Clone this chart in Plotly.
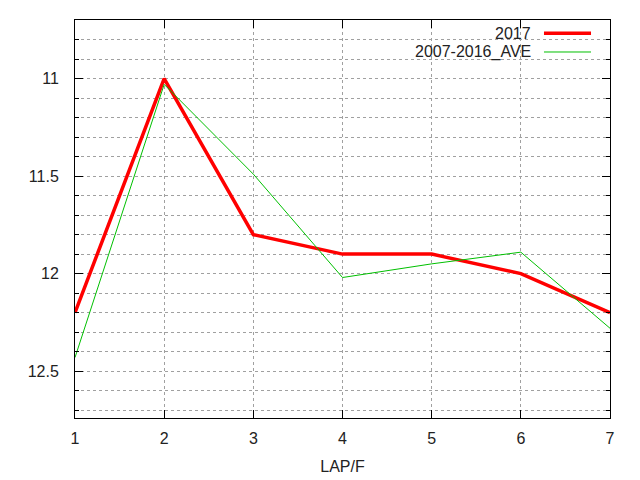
import plotly.graph_objects as go

# lap number and lap time per furlong (seconds)
laps = [1, 2, 3, 4, 5, 6, 7]
y2017 = [12.2, 11.0, 11.8, 11.9, 11.9, 12.0, 12.2]
y_ave = [12.43, 11.03, 11.49, 12.02, 11.95, 11.89, 12.28]

FONT = "Liberation Sans, Arial, sans-serif"
TXT = "#222222"

fig = go.Figure()

fig.add_trace(go.Scatter(
    x=laps, y=y2017, mode="lines", name="2017",
    line=dict(color="#ff0000", width=3.5), showlegend=False,
))
fig.add_trace(go.Scatter(
    x=laps, y=y_ave, mode="lines", name="2007-2016_AVE",
    line=dict(color="#00c000", width=1), showlegend=False,
))

# gnuplot-style key: label first, sample line to the right
key = [("2017", "#ff0000", 3.5, 0.967), ("2007-2016_AVE", "#00c000", 1, 0.9196)]
for label, color, w, yk in key:
    fig.add_annotation(x=0.857, y=yk, xref="paper", yref="paper", text=label,
                       showarrow=False, xanchor="right", yanchor="middle",
                       font=dict(family=FONT, size=16, color=TXT))
    fig.add_shape(type="line", xref="paper", yref="paper",
                  x0=0.8766, x1=0.9645, y0=yk, y1=yk,
                  line=dict(color=color, width=w))

axis_common = dict(
    showline=True, linecolor="black", linewidth=1, mirror="ticks",
    ticks="inside", tickcolor="black", zeroline=False,
    showgrid=True, gridcolor="#a0a0a0", griddash="dot", gridwidth=1,
    tickfont=dict(family=FONT, size=16, color=TXT),
)

fig.update_xaxes(
    range=[1, 7], dtick=1, tick0=1, ticklen=8,
    ticklabelstandoff=6,
    title=dict(text="LAP/F", font=dict(family=FONT, size=16, color=TXT), standoff=14),
    **axis_common,
)
fig.update_yaxes(
    range=[12.74, 10.7], dtick=0.5, tick0=11, ticklen=8,
    ticklabelstandoff=12,
    minor=dict(dtick=0.1, tick0=11, ticks="inside", ticklen=4, tickcolor="black",
               showgrid=True, gridcolor="#a0a0a0", griddash="dot", gridwidth=1),
    **axis_common,
)

fig.update_layout(
    width=640, height=480,
    margin=dict(l=67, r=38, t=12, b=70, autoexpand=False),
    plot_bgcolor="white", paper_bgcolor="white",
    showlegend=False,
)

fig.write_html("out.html")
